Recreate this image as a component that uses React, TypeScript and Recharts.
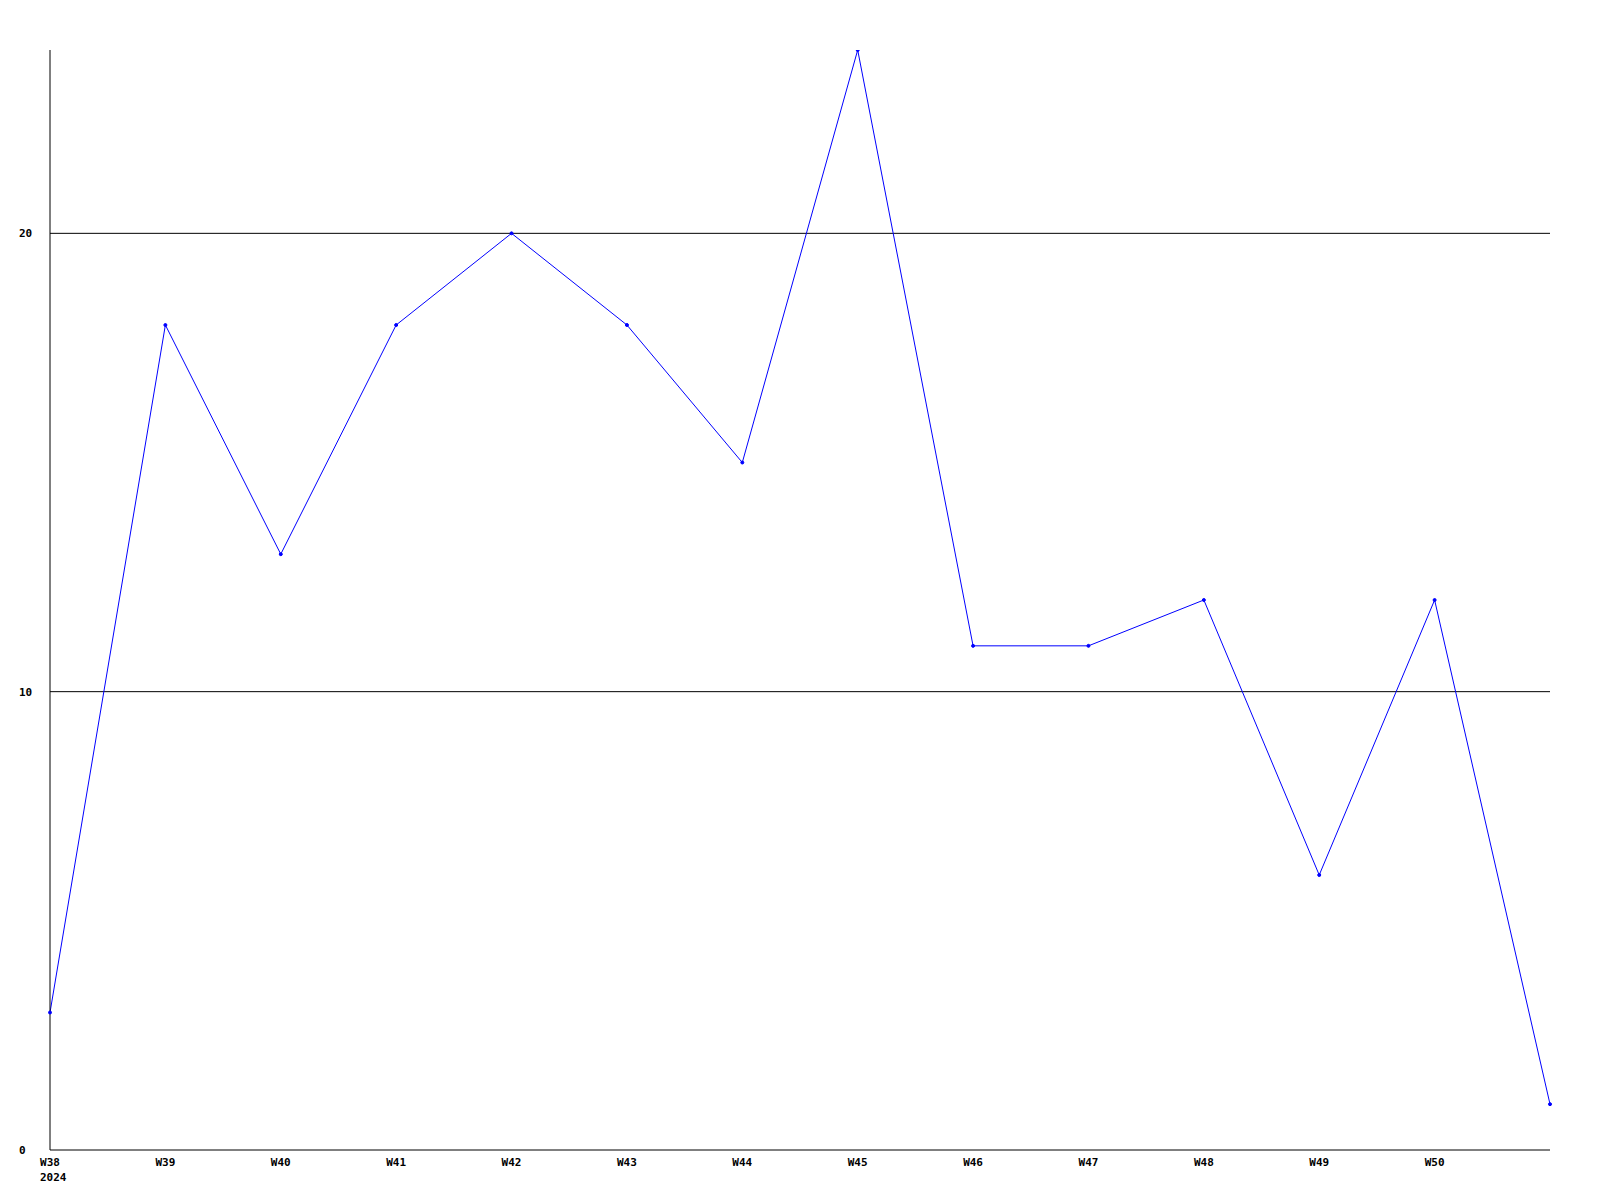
import { LineChart, Line, XAxis, YAxis, ReferenceLine } from "recharts";

const weeks = ["W38", "W39", "W40", "W41", "W42", "W43", "W44", "W45", "W46", "W47", "W48", "W49", "W50", "W51"];
const weekLabels = ["W38", "W39", "W40", "W41", "W42", "W43", "W44", "W45", "W46", "W47", "W48", "W49", "W50", ""];
const counts = [3, 18, 13, 18, 20, 18, 15, 24, 11, 11, 12, 6, 12, 1];
const yearLabel = "2024";
const yTicks = [0, 10, 20];
const gridValues = [10, 20];

const data = weeks.map((w, i) => ({ week: w, label: weekLabels[i], value: counts[i] }));

const FONT = "'DejaVu Sans Mono', 'Liberation Mono', monospace";

function WeekTick(props: any) {
  const { x, y, payload, index } = props;
  const label = weekLabels[index] ?? payload.value;
  return (
    <g>
      <text x={x} y={y} dy={8} textAnchor="middle" fontFamily={FONT} fontSize={11} fontWeight="bold" fill="#000">
        {label}
      </text>
      {index === 0 && (
        <text x={x - 10} y={y} dy={23} textAnchor="start" fontFamily={FONT} fontSize={11} fontWeight="bold" fill="#000">
          {yearLabel}
        </text>
      )}
    </g>
  );
}

function CountTick(props: any) {
  const { y, payload } = props;
  return (
    <text x={19} y={y} dy={4} textAnchor="start" fontFamily={FONT} fontSize={11} fontWeight="bold" fill="#000">
      {payload.value}
    </text>
  );
}

export default function App() {
  return (
    <div style={{ position: "absolute", left: 0, top: 0, width: 1600, height: 1200, background: "#fff" }}>
      <LineChart width={1600} height={1200} data={data} margin={{ top: 50, right: 50, left: 0, bottom: 0 }}>
        <XAxis
          dataKey="week"
          interval={0}
          height={50}
          tickLine={false}
          axisLine={{ stroke: "#000" }}
          tick={<WeekTick />}
        />
        <YAxis
          domain={[0, 24]}
          ticks={yTicks}
          width={50}
          tickLine={false}
          axisLine={{ stroke: "#000" }}
          tick={<CountTick />}
          allowDataOverflow
        />
        {gridValues.map((v) => (
          <ReferenceLine key={v} y={v} stroke="#000" strokeWidth={1} />
        ))}
        <Line
          type="linear"
          dataKey="value"
          stroke="#0000ff"
          strokeWidth={1}
          dot={{ r: 1.5, fill: "#0000ff", stroke: "#0000ff", strokeWidth: 1 }}
          isAnimationActive={false}
        />
      </LineChart>
    </div>
  );
}
